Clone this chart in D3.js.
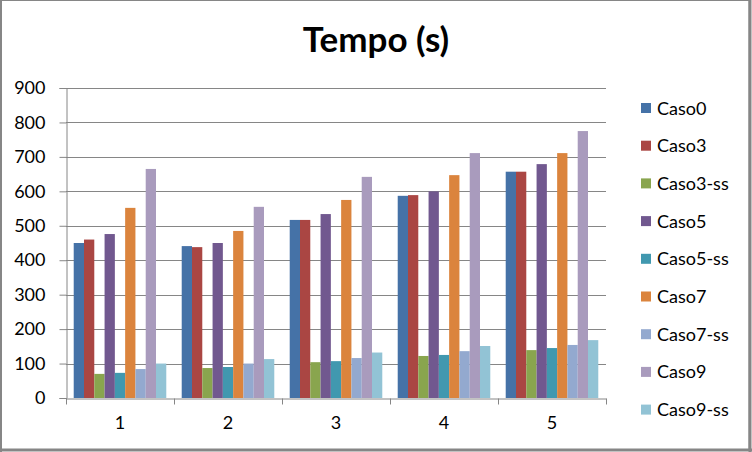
<!DOCTYPE html>
<html>
<head>
<meta charset="utf-8">
<script src="https://cdn.jsdelivr.net/npm/d3@7"></script>
<style>
  html, body { margin: 0; padding: 0; background: #fff; }
  svg { display: block; }
  text { font-family: Lato, "Open Sans", sans-serif; fill: #000; }
</style>
</head>
<body>
<svg id="chart" width="752" height="452"></svg>
<script>
const categories = ["1", "2", "3", "4", "5"];
const seriesNames = ["Caso0", "Caso3", "Caso3-ss", "Caso5", "Caso5-ss", "Caso7", "Caso7-ss", "Caso9", "Caso9-ss"];
const caso0   = [450, 441, 517, 587, 657];
const caso3   = [460, 438, 517, 589, 657];
const caso3ss = [70, 87, 104, 122, 139];
const caso5   = [476, 450, 534, 600, 679];
const caso5ss = [73, 90, 107, 125, 145];
const caso7   = [552, 485, 575, 647, 711];
const caso7ss = [84, 100, 116, 136, 154];
const caso9   = [665, 555, 642, 711, 775];
const caso9ss = [100, 113, 132, 151, 168];
const yTicks = [0, 100, 200, 300, 400, 500, 600, 700, 800, 900];
const colors = ["#4572A7", "#AA4643", "#89A54E", "#71588F", "#4198AF", "#DB843D", "#93A9CF", "#A99BBD", "#92C3D5"];

const seriesValues = [caso0, caso3, caso3ss, caso5, caso5ss, caso7, caso7ss, caso9, caso9ss];

const svg = d3.select("#chart");
const W = 752, H = 452;
const plot = { left: 66, right: 606, top: 88, bottom: 398 };

// outer frame
svg.append("rect").attr("x", 1).attr("y", 0.5).attr("width", W - 4).attr("height", H - 3)
  .attr("fill", "#fff").attr("stroke", "#868686").attr("stroke-width", 1);
svg.append("line").attr("x1", 1).attr("x2", 1).attr("y1", 0).attr("y2", H).attr("stroke", "#868686").attr("stroke-width", 2);
svg.append("line").attr("x1", W - 2).attr("x2", W - 2).attr("y1", 0).attr("y2", H).attr("stroke", "#868686").attr("stroke-width", 3);
svg.append("line").attr("x1", 0).attr("x2", W).attr("y1", H - 2).attr("y2", H - 2).attr("stroke", "#868686").attr("stroke-width", 3);

// title
svg.append("text").attr("x", 376).attr("y", 52).attr("text-anchor", "middle")
  .style("font-size", "35px").style("font-weight", "bold").text("Tempo (s)");

const y = d3.scaleLinear().domain([0, 900]).range([plot.bottom, plot.top]);
const x0 = d3.scaleBand().domain(categories).range([plot.left, plot.right]).padding(0);
const step = x0.bandwidth();
const gap = step * 1.5 / 10.5;
const x1 = d3.scaleBand().domain(seriesNames).range([gap / 2, step - gap / 2]).padding(0);

// gridlines
svg.append("g").selectAll("line").data(yTicks.filter(d => d > 0)).join("line")
  .attr("x1", plot.left).attr("x2", plot.right)
  .attr("y1", d => Math.round(y(d)) + 0.5).attr("y2", d => Math.round(y(d)) + 0.5)
  .attr("stroke", "#868686").attr("stroke-width", 1);

// bars
const groups = svg.append("g").selectAll("g").data(categories).join("g")
  .attr("transform", c => `translate(${x0(c)},0)`);
groups.selectAll("rect").data((c, i) => seriesNames.map((s, j) => ({ s, j, v: seriesValues[j][i] })))
  .join("rect")
  .attr("x", d => x1(d.s))
  .attr("width", x1.bandwidth())
  .attr("y", d => y(d.v))
  .attr("height", d => y(0) - y(d.v))
  .attr("fill", d => colors[d.j]);

// y axis
const yAxis = svg.append("g").attr("transform", `translate(${plot.left + 0.5},0)`)
  .call(d3.axisLeft(y).tickValues(yTicks).tickSize(7).tickPadding(14).tickFormat(d3.format("d")));
yAxis.select(".domain").attr("stroke", "#868686");
yAxis.selectAll(".tick line").attr("stroke", "#868686");
yAxis.selectAll(".tick text").style("font-size", "18px").style("font-family", "Lato, sans-serif").attr("fill", "#000");

// x axis
const xAxis = svg.append("g").attr("transform", `translate(0,${plot.bottom + 0.5})`)
  .call(d3.axisBottom(x0).tickSize(0).tickPadding(18));
xAxis.select(".domain").attr("stroke", "#868686");
xAxis.selectAll(".tick text").style("font-size", "18px").style("font-family", "Lato, sans-serif").attr("fill", "#000");
const boundaries = categories.map(c => x0(c)).concat([plot.right]);
xAxis.append("g").selectAll("line").data(boundaries).join("line")
  .attr("x1", d => Math.round(d) + 0.5).attr("x2", d => Math.round(d) + 0.5)
  .attr("y1", 0).attr("y2", 6).attr("stroke", "#868686");

// legend
const legend = svg.append("g").selectAll("g").data(seriesNames).join("g")
  .attr("transform", (d, i) => `translate(641,${108 + i * 37.7})`);
legend.append("rect").attr("x", 0).attr("y", -5).attr("width", 10).attr("height", 10)
  .attr("fill", (d, i) => colors[i]);
legend.append("text").attr("x", 16).attr("y", 6.5).style("font-size", "18px").text(d => d);
</script>
</body>
</html>
